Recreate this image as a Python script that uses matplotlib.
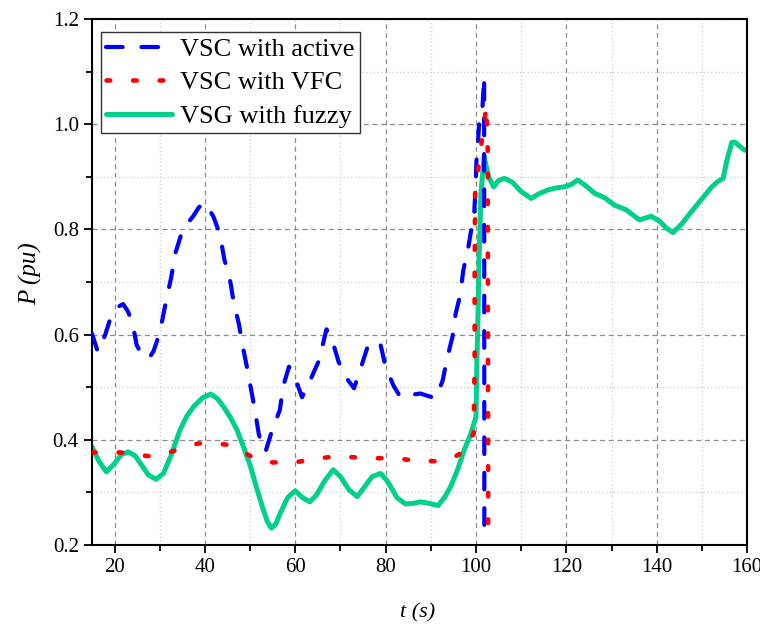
import numpy as np
import matplotlib
matplotlib.use('Agg')
import matplotlib.pyplot as plt
from matplotlib.ticker import MultipleLocator, FormatStrFormatter

plt.rcParams['font.family'] = ['Liberation Serif', 'DejaVu Serif']

# VSC with active
t_active = [15.0, 16.3, 17.9, 19.3, 20.6, 21.9, 22.9, 23.9, 24.9, 26.4, 27.7, 28.6,
            29.4, 30.5, 31.6, 32.5, 33.5, 34.7, 36.0, 37.4, 38.5, 39.6, 40.8, 41.9,
            43.3, 44.3, 45.5, 46.4, 47.5, 48.4, 49.3, 50.1, 51.0, 51.9, 52.6, 53.4,
            54.9, 56.6, 57.3, 58.6, 60.0, 61.5, 63.4, 65.2, 66.2, 66.9, 67.8, 69.6,
            71.1, 73.0, 74.3, 75.9, 77.2, 78.9, 80.0, 81.8, 83.0, 84.4, 86.0, 87.7,
            89.5, 91.1, 92.6, 93.7, 94.8, 95.5, 96.5, 97.2, 98.2, 99.0, 99.6, 99.9,
            100.1, 100.4, 100.7, 101.4, 101.8, 101.85]
p_active = [0.602, 0.567, 0.599, 0.637, 0.652, 0.658, 0.645, 0.625, 0.580, 0.557, 0.556, 0.568,
            0.588, 0.625, 0.672, 0.707, 0.756, 0.789, 0.810, 0.825, 0.840, 0.851, 0.840, 0.824,
            0.791, 0.743, 0.707, 0.660, 0.621, 0.577, 0.538, 0.501, 0.460, 0.412, 0.388, 0.377,
            0.419, 0.457, 0.501, 0.539, 0.517, 0.481, 0.515, 0.550, 0.585, 0.610, 0.600, 0.548,
            0.520, 0.498, 0.531, 0.574, 0.588, 0.580, 0.538, 0.502, 0.485, 0.479, 0.486, 0.488,
            0.483, 0.479, 0.512, 0.558, 0.596, 0.640, 0.675, 0.723, 0.761, 0.802, 0.830, 0.880,
            0.930, 0.960, 1.002, 1.027, 1.090, 0.215]

# VSC with VFC
t_vfc = [15.0, 18.0, 21.2, 24.5, 27.5, 30.5, 33.2, 36.0, 38.6, 41.5, 44.7, 47.2,
         49.5, 52.0, 55.0, 57.6, 60.5, 63.5, 66.5, 69.5, 72.5, 75.5, 78.5, 81.7,
         85.0, 88.1, 91.8, 94.5, 97.0, 99.5, 99.7, 99.7, 99.8, 101.4, 102.3, 102.6, 102.7]
p_vfc = [0.376, 0.376, 0.376, 0.372, 0.369, 0.372, 0.379, 0.388, 0.393, 0.393, 0.391, 0.382,
         0.372, 0.360, 0.357, 0.357, 0.358, 0.362, 0.366, 0.369, 0.367, 0.365, 0.365, 0.365,
         0.362, 0.360, 0.359, 0.364, 0.376, 0.412, 0.550, 0.700, 0.870, 0.976, 1.035, 0.950, 0.215]

# VSG with fuzzy
t_fuzzy = [15.0, 16.5, 18.2, 20.0, 21.5, 23.0, 24.5, 26.0, 27.5, 29.2, 30.8, 32.5,
           34.5, 36.0, 37.5, 39.5, 41.3, 42.8, 44.1, 45.6, 47.1, 48.6, 50.1, 51.4,
           52.7, 53.8, 54.7, 55.7, 56.7, 58.3, 60.0, 61.6, 63.2, 64.7, 66.5, 68.4,
           70.0, 71.9, 73.7, 75.3, 77.0, 78.9, 80.5, 82.5, 84.4, 86.0, 87.7, 89.7,
           91.6, 93.0, 94.4, 96.0, 97.4, 98.8, 100.0, 100.2, 100.4, 100.7, 101.1, 101.8,
           102.8, 103.9, 105.0, 106.3, 108.0, 110.0, 112.2, 114.0, 115.9, 117.8, 119.6, 121.0,
           122.5, 124.3, 126.2, 128.5, 130.7, 133.3, 134.8, 136.2, 137.6, 138.8, 140.7, 142.2,
           143.6, 145.5, 147.7, 150.0, 152.1, 153.5, 154.7, 155.5, 156.6, 157.3, 158.1, 159.4, 160.0]
p_fuzzy = [0.387, 0.360, 0.339, 0.355, 0.372, 0.377, 0.370, 0.352, 0.333, 0.325, 0.336, 0.370,
           0.419, 0.445, 0.463, 0.480, 0.487, 0.478, 0.463, 0.443, 0.419, 0.385, 0.349, 0.310,
           0.273, 0.245, 0.232, 0.240, 0.261, 0.290, 0.303, 0.290, 0.282, 0.295, 0.322, 0.343,
           0.330, 0.305, 0.292, 0.310, 0.330, 0.336, 0.320, 0.290, 0.278, 0.279, 0.282, 0.279,
           0.275, 0.290, 0.311, 0.345, 0.381, 0.410, 0.444, 0.550, 0.615, 0.750, 0.869, 0.938,
           0.900, 0.881, 0.893, 0.897, 0.890, 0.872, 0.859, 0.868, 0.875, 0.879, 0.881, 0.885,
           0.894, 0.883, 0.869, 0.860, 0.846, 0.837, 0.827, 0.818, 0.822, 0.825, 0.815, 0.802,
           0.794, 0.810, 0.834, 0.858, 0.880, 0.891, 0.897, 0.930, 0.965, 0.966, 0.960, 0.951, 0.950]

fig = plt.figure(figsize=(7.6, 6.26), dpi=100)
ax = fig.add_axes([0.121, 0.1294, 0.862, 0.8402])

ax.plot(t_active, p_active, color='#0000FF', lw=3, linestyle=(0, (4, 4.5)),
        dash_capstyle='round', solid_capstyle='round', label='VSC with active', zorder=3)
ax.plot(t_vfc, p_vfc, color='#FF0000', lw=3.3, linestyle=(0, (0.8, 5.0)),
        dash_capstyle='round', label='VSC with VFC', zorder=4)
ax.plot(t_fuzzy, p_fuzzy, color='#00D08C', lw=3.6, solid_capstyle='round',
        solid_joinstyle='round', label='VSG with fuzzy', zorder=2)

ax.set_xlim(15, 160)
ax.set_ylim(0.2, 1.2)
ax.xaxis.set_major_locator(MultipleLocator(20))
ax.xaxis.set_minor_locator(MultipleLocator(10))
ax.yaxis.set_major_locator(MultipleLocator(0.2))
ax.yaxis.set_minor_locator(MultipleLocator(0.1))
ax.yaxis.set_major_formatter(FormatStrFormatter('%.1f'))

ax.grid(which='major', linestyle=(0, (4, 3)), color='#8c8c8c', lw=0.9)
ax.grid(which='minor', linestyle=(0, (1, 2)), color='#cccccc', lw=0.9)
ax.set_axisbelow(True)

for s in ax.spines.values():
    s.set_linewidth(1.5)
ax.tick_params(which='major', direction='out', length=6, width=1.3, labelsize=15,
               top=False, right=False)
ax.tick_params(which='minor', direction='out', length=4, width=1.3, top=False, right=False)

ax.set_xlabel('t (s)', fontsize=16, fontstyle='italic', va='top')
ax.xaxis.set_label_coords(0.497, -0.11)
ax.set_ylabel('P (pu)', fontsize=18, fontstyle='italic')
ax.yaxis.set_label_coords(-0.076, 0.516)

leg = ax.legend(loc='upper left', bbox_to_anchor=(0.0133, 0.975), borderaxespad=0,
                fontsize=19, handlelength=2.5, handletextpad=0.3, labelspacing=0.38,
                borderpad=0.2, fancybox=False, framealpha=1, edgecolor='#333333')
leg.get_frame().set_linewidth(1.0)

fig.savefig('out.png', dpi=100)
